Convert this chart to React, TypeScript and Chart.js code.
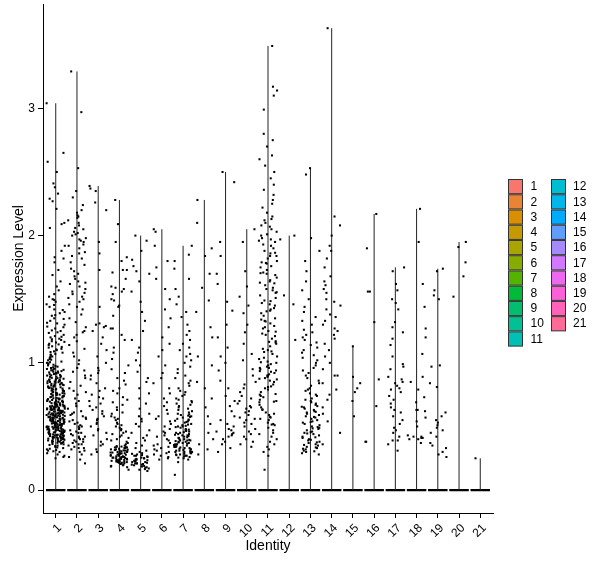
import React, { useEffect, useRef } from "react";
import { Chart, registerables } from "chart.js";

Chart.register(...registerables);

// ---------- data ----------
const IDENTITIES = ["1","2","3","4","5","6","7","8","9","10","11","12","13","14","15","16","17","18","19","20","21"];
const Y_TICKS = [0, 1, 2, 3];
const X_TITLE = "Identity";
const Y_TITLE = "Expression Level";

// non-zero expression values per identity (every identity also has many zero cells)
const C1 = [3.04, 2.65, 2.58, 2.50, 2.41, 2.38, 2.33, 2.29, 2.27, 2.21, 2.10, 2.09, 2.06,
  1.92, 1.88, 1.83, 1.82, 1.79, 1.73, 1.69, 1.64, 1.60, 1.57, 1.54, 1.52, 1.50,
  1.48, 1.46, 1.44, 1.42, 1.40, 1.39, 1.37, 1.35, 1.33, 1.31, 1.30, 1.28, 1.27, 1.25, 1.24, 1.22, 1.21, 1.20,
  1.19, 1.18, 1.17, 1.16, 1.15, 1.14, 1.13, 1.12, 1.11, 1.10, 1.09, 1.08, 1.07, 1.06, 1.05, 1.04, 1.03, 1.02, 1.01, 1.00,
  0.99, 0.98, 0.97, 0.96, 0.95, 0.94, 0.93, 0.92, 0.91, 0.90, 0.89, 0.88, 0.87, 0.86, 0.85, 0.84, 0.83, 0.82, 0.81, 0.80,
  0.995, 0.985, 0.975, 0.965, 0.955, 0.945, 0.935, 0.925, 0.915, 0.905, 0.895, 0.885, 0.875, 0.865, 0.855, 0.845, 0.835, 0.825, 0.815, 0.805,
  0.79, 0.78, 0.77, 0.76, 0.75, 0.74, 0.73, 0.72, 0.71, 0.70, 0.69, 0.68, 0.67, 0.66, 0.65, 0.64, 0.63, 0.62, 0.61, 0.60,
  0.59, 0.58, 0.57, 0.56, 0.55, 0.54, 0.53, 0.52, 0.51, 0.50, 0.49, 0.48, 0.47, 0.46, 0.45, 0.44, 0.43, 0.42, 0.41, 0.40,
  0.39, 0.38, 0.37, 0.36, 0.35, 0.34, 0.33, 0.32, 0.31, 0.30,
  0.795, 0.785, 0.775, 0.765, 0.755, 0.745, 0.735, 0.725, 0.715, 0.705, 0.695, 0.685, 0.675, 0.665, 0.655, 0.645, 0.635, 0.625, 0.615, 0.605,
  0.595, 0.585, 0.575, 0.565, 0.555, 0.545, 0.535, 0.525, 0.515, 0.505, 0.495, 0.485, 0.475, 0.465, 0.455, 0.445, 0.435, 0.425, 0.415, 0.405,
  0.395, 0.385, 0.375, 0.365, 0.355, 0.345, 0.335, 0.325, 0.315, 0.305,
  0.703, 0.693, 0.683, 0.673, 0.663, 0.653, 0.643, 0.633, 0.623, 0.613, 0.603, 0.593, 0.583, 0.573, 0.563, 0.553,
  0.543, 0.533, 0.523, 0.513, 0.503, 0.493, 0.483, 0.473, 0.463, 0.453, 0.443, 0.433, 0.423, 0.413, 0.403,
  0.657, 0.647, 0.637, 0.627, 0.617, 0.607, 0.597, 0.587, 0.577, 0.567, 0.557, 0.547, 0.537, 0.527, 0.517,
  0.507, 0.497, 0.487, 0.477, 0.467, 0.457, 0.447, 0.437, 0.427, 0.417, 0.407,
  0.29, 0.28, 0.27, 0.26, 0.25,
  0.952, 0.942, 0.932, 0.922, 0.912, 0.902, 0.892, 0.882, 0.872, 0.862, 0.852, 0.842, 0.832, 0.822, 0.812,
  0.802, 0.792, 0.782, 0.772, 0.762, 0.752, 0.742, 0.732, 0.722, 0.712, 0.702, 0.692, 0.682, 0.672, 0.662,
  0.652, 0.642, 0.632, 0.622, 0.612, 0.602, 0.592, 0.582, 0.572, 0.562, 0.552, 0.542, 0.532, 0.522, 0.512,
  0.502, 0.492, 0.482, 0.472, 0.462, 0.452, 0.442, 0.432, 0.422, 0.412, 0.402, 0.392, 0.382, 0.372, 0.362,
  0.868, 0.858, 0.848, 0.838, 0.828, 0.818, 0.808, 0.798, 0.788, 0.778, 0.768, 0.758, 0.748, 0.738, 0.728,
  0.718, 0.708, 0.698, 0.688, 0.678, 0.668, 0.658, 0.648, 0.638, 0.628, 0.618, 0.608, 0.598, 0.588, 0.578,
  0.568, 0.558, 0.548, 0.538, 0.528, 0.518, 0.508, 0.498, 0.488, 0.478, 0.468, 0.458, 0.448, 0.438, 0.428,
  0.418, 0.408, 0.398, 0.388, 0.378,
  1.495, 1.455, 1.415, 1.375, 1.345, 1.315, 1.285, 1.255, 1.235, 1.205, 1.185, 1.165, 1.145, 1.125, 1.105,
  1.085, 1.065, 1.045, 1.025, 1.005];
const C2 = [3.29, 2.97, 2.53, 2.35, 2.30, 2.24, 2.20, 2.18, 2.16, 2.14, 2.12, 2.10, 2.08, 2.06, 2.05, 2.03, 2.01, 2.00, 1.98, 1.96, 1.95, 1.93, 1.92, 1.90,
  1.87, 1.84, 1.82, 1.79, 1.77, 1.74, 1.72, 1.70, 1.68, 1.66, 1.64, 1.62, 1.60, 1.58, 1.56, 1.54, 1.52, 1.50, 1.48, 1.46, 1.44, 1.42,
  1.38, 1.35, 1.32, 1.28, 1.25, 1.22, 1.20, 1.17, 1.14, 1.11, 1.08, 1.05, 1.02,
  0.99, 0.96, 0.93, 0.90, 0.88, 0.85, 0.82, 0.80, 0.77, 0.75, 0.72, 0.70, 0.68, 0.66, 0.64, 0.62, 0.61,
  0.60, 0.58, 0.57, 0.55, 0.54, 0.53, 0.52, 0.51, 0.50, 0.49, 0.48, 0.47, 0.46, 0.45, 0.44, 0.43, 0.42, 0.41, 0.40, 0.40,
  0.39, 0.38, 0.38, 0.37, 0.36, 0.35, 0.34, 0.33, 0.32, 0.31, 0.30, 0.28, 0.26, 0.24, 0.21,
  2.15, 2.02, 1.97, 1.86, 1.63, 1.55, 1.51, 1.24, 0.94, 0.78, 0.59, 0.56, 0.50, 0.45, 0.42, 0.36, 0.33];
const C3 = [2.39, 2.37, 2.35, 2.26, 2.20, 1.95, 1.86, 1.73, 1.44, 1.31, 1.30, 1.29, 1.28, 1.25, 1.20, 1.15, 1.10, 1.05, 1.00,
  0.96, 0.94, 0.92, 0.90, 0.87, 0.84, 0.80, 0.78, 0.75, 0.73, 0.72, 0.70, 0.68, 0.66, 0.65, 0.63, 0.62, 0.60, 0.58, 0.56,
  0.55, 0.53, 0.52, 0.50, 0.48, 0.47, 0.45, 0.43, 0.40, 0.38, 0.36, 0.35, 0.32, 0.30, 0.28];
const C4 = [2.28, 2.09, 1.95, 1.83, 1.80, 1.73, 1.73, 1.71, 1.66, 1.60, 1.59, 1.58, 1.56, 1.54, 1.50, 1.49, 1.45, 1.44, 1.37,
  1.27, 1.27, 1.22, 1.18, 1.12, 1.08, 1.03, 0.98, 0.95, 0.92, 0.88, 0.86, 0.83, 0.80, 0.78, 0.76, 0.73, 0.71, 0.69, 0.67,
  0.65, 0.63, 0.61, 0.60, 0.58, 0.57, 0.56, 0.55, 0.53, 0.52, 0.51, 0.50, 0.49, 0.48, 0.47, 0.46, 0.45, 0.44, 0.43, 0.42,
  0.41, 0.40, 0.39, 0.38, 0.37, 0.36, 0.35, 0.34, 0.34, 0.33, 0.33, 0.32, 0.32, 0.31, 0.31, 0.30, 0.30, 0.29, 0.29, 0.28,
  0.28, 0.27, 0.27, 0.26, 0.26, 0.25, 0.25, 0.24, 0.24, 0.23, 0.23, 0.22, 0.22, 0.21, 0.20, 0.19, 0.18, 0.16,
  0.305, 0.295, 0.285, 0.275, 0.265, 0.255, 0.245, 0.235, 0.225, 0.215, 0.205,
  0.345, 0.335, 0.325, 0.315, 0.305, 0.295, 0.285, 0.275, 0.265, 0.255, 0.245, 0.235, 0.225, 0.215, 0.195, 0.185,
  0.335, 0.312, 0.288, 0.262, 0.238, 0.212, 0.342, 0.318, 0.278, 0.252, 0.228];
const C5 = [2.00, 1.96, 1.88, 1.81, 1.76, 1.72, 1.70, 1.64, 1.56, 1.48, 1.40, 1.33, 1.25, 1.18, 1.12, 1.08, 1.02, 0.98,
  0.93, 0.88, 0.85, 0.80, 0.76, 0.72, 0.68, 0.64, 0.60, 0.58, 0.56, 0.54, 0.52, 0.50, 0.47, 0.45, 0.43, 0.41, 0.39,
  0.37, 0.35, 0.33, 0.31, 0.30, 0.29, 0.28, 0.27, 0.26, 0.25, 0.25, 0.24, 0.23, 0.23, 0.22, 0.22, 0.21, 0.21, 0.20,
  0.20, 0.19, 0.18, 0.17, 0.16, 0.15,
  0.285, 0.275, 0.265, 0.255, 0.245, 0.235, 0.225, 0.215, 0.205, 0.195, 0.185, 0.175, 0.165, 0.27, 0.24, 0.21];
const C6 = [2.05, 2.03, 1.92, 1.80, 1.75, 1.66, 1.58, 1.50, 1.42, 1.35, 1.28, 1.20, 1.15, 1.10, 1.05, 0.98, 0.92, 0.88,
  0.84, 0.80, 0.76, 0.72, 0.69, 0.66, 0.63, 0.60, 0.58, 0.56, 0.54, 0.52, 0.50, 0.48, 0.46, 0.45, 0.43, 0.42, 0.40,
  0.39, 0.37, 0.36, 0.35, 0.34, 0.33, 0.32, 0.31, 0.30, 0.29, 0.28, 0.27, 0.26, 0.25, 0.24];
const C7 = [1.92, 1.85, 1.80, 1.74, 1.66, 1.58, 1.52, 1.46, 1.40, 1.36, 1.30, 1.25, 1.22, 1.18, 1.15, 1.12, 1.10, 1.07,
  1.05, 1.02, 1.00, 0.97, 0.95, 0.92, 0.90, 0.88, 0.86, 0.84, 0.82, 0.80, 0.78, 0.77, 0.75, 0.74, 0.72, 0.71, 0.70,
  0.69, 0.68, 0.67, 0.66, 0.65, 0.64, 0.63, 0.62, 0.61, 0.60, 0.59, 0.58, 0.57, 0.56, 0.55, 0.54, 0.53, 0.52, 0.51,
  0.50, 0.50, 0.49, 0.48, 0.47, 0.47, 0.46, 0.45, 0.45, 0.44, 0.43, 0.43, 0.42, 0.41, 0.41, 0.40, 0.40, 0.39, 0.39,
  0.38, 0.38, 0.37, 0.37, 0.36, 0.36, 0.35, 0.35, 0.34, 0.34, 0.33, 0.33, 0.32, 0.32, 0.31, 0.31, 0.30, 0.30, 0.29,
  0.29, 0.28, 0.28, 0.27, 0.26, 0.25, 0.24, 0.22, 0.12,
  0.595, 0.575, 0.555, 0.535, 0.515, 0.495, 0.475, 0.455, 0.435, 0.415, 0.395, 0.375, 0.355, 0.345, 0.335, 0.325,
  0.315, 0.305, 0.295, 0.285, 0.275, 0.265, 0.255, 0.585, 0.545, 0.505, 0.465, 0.425, 0.385, 0.365, 0.44, 0.39,
  0.34, 0.30, 0.27];
const C8 = [2.28, 2.10, 1.90, 1.84, 1.70, 1.59, 1.49, 1.40, 1.28, 1.20, 1.05, 0.98, 0.85, 0.80, 0.72, 0.65, 0.58, 0.52,
  0.45, 0.40, 0.36, 0.32, 0.28];
const C9 = [2.50, 2.42, 1.95, 1.84, 1.70, 1.62, 1.48, 1.41, 1.30, 1.20, 1.12, 1.05, 1.00, 0.94, 0.86, 0.80, 0.74, 0.70,
  0.66, 0.62, 0.58, 0.55, 0.52, 0.50, 0.48, 0.47, 0.46, 0.45, 0.44, 0.43, 0.42, 0.40, 0.38, 0.36, 0.33, 0.30];
const C10 = [2.05, 1.95, 1.72, 1.60, 1.52, 1.45, 1.39, 1.30, 1.24, 1.15, 1.07, 1.02, 0.95, 0.90, 0.85, 0.83, 0.80, 0.77,
  0.74, 0.72, 0.70, 0.68, 0.66, 0.65, 0.64, 0.62, 0.61, 0.59, 0.57, 0.56, 0.55, 0.53, 0.52, 0.50, 0.48, 0.46, 0.44,
  0.42, 0.40, 0.38, 0.36, 0.34];
const C11 = [3.49, 3.17, 3.14, 3.10, 2.99, 2.80, 2.75, 2.70, 2.63, 2.60, 2.55, 2.50, 2.45, 2.40, 2.36, 2.32, 2.28, 2.25,
  2.22, 2.18, 2.15, 2.13, 2.12, 2.10, 2.07, 2.05, 2.03, 2.01, 2.00, 1.98, 1.97, 1.95, 1.92, 1.90, 1.88, 1.86, 1.84,
  1.82, 1.80, 1.78, 1.76, 1.75, 1.73, 1.71, 1.69, 1.67, 1.65, 1.63, 1.61, 1.59, 1.57, 1.55, 1.53, 1.51, 1.49, 1.47,
  1.45, 1.43, 1.41, 1.39, 1.37, 1.35, 1.33, 1.31, 1.29, 1.27, 1.25, 1.23, 1.21, 1.19, 1.17, 1.15, 1.13, 1.11, 1.09,
  1.07, 1.05, 1.03, 1.01, 0.99, 0.98, 0.97, 0.96, 0.95, 0.94, 0.93, 0.92, 0.91, 0.90, 0.89, 0.88, 0.86, 0.85, 0.83,
  0.81, 0.79, 0.77, 0.75, 0.73, 0.71, 0.69, 0.67, 0.65, 0.63, 0.61, 0.59, 0.57, 0.55, 0.53, 0.51, 0.49, 0.47, 0.45,
  0.42, 0.40, 0.38, 0.36, 0.34, 0.32, 0.30, 0.27, 0.16,
  1.96, 1.84, 1.70, 1.58, 1.46, 1.34, 1.22, 1.10, 1.00, 0.90, 0.80, 0.70, 0.60, 0.52, 0.44,
  2.08, 1.93, 1.79, 1.64, 1.42, 1.28, 1.16, 1.04, 0.96, 0.87, 0.74, 0.56,
  1.485, 1.405, 1.325, 1.245, 1.165, 1.085, 1.005, 0.935, 0.875, 0.815, 0.755, 0.695, 0.635, 0.575, 0.515,
  1.555, 1.625, 1.705, 1.785, 1.865];
const C12 = [2.00, 1.97, 1.53, 1.46, 1.18];
const C13 = [2.53, 2.48, 1.98, 1.88, 1.80, 1.72, 1.64, 1.57, 1.50, 1.44, 1.40, 1.36, 1.33, 1.30, 1.26, 1.24, 1.22, 1.20,
  1.18, 1.16, 1.14, 1.12, 1.10, 1.08, 1.06, 1.04, 1.02, 1.00, 0.98, 0.96, 0.94, 0.92, 0.90, 0.88, 0.86, 0.84, 0.82,
  0.80, 0.79, 0.78, 0.76, 0.75, 0.74, 0.72, 0.71, 0.70, 0.69, 0.68, 0.67, 0.66, 0.65, 0.64, 0.63, 0.62, 0.61, 0.60,
  0.59, 0.58, 0.57, 0.56, 0.55, 0.54, 0.53, 0.52, 0.51, 0.50, 0.49, 0.48, 0.47, 0.46, 0.45, 0.44, 0.43, 0.42, 0.41,
  0.40, 0.39, 0.38, 0.37, 0.36, 0.35, 0.34, 0.33, 0.32, 0.31, 0.30, 0.29, 0.28,
  0.655, 0.615, 0.575, 0.535, 0.495, 0.455, 0.415, 0.375, 0.335, 0.305, 0.485, 0.445, 0.395, 0.355, 0.325];
const C14 = [3.63, 2.15, 2.08, 2.00, 1.92, 1.88, 1.82, 1.75, 1.68, 1.64, 1.61, 1.58, 1.55, 1.50, 1.48, 1.45, 1.42, 1.38,
  1.36, 1.33, 1.30, 1.27, 1.25, 1.22, 1.19, 1.15, 1.10, 1.05, 1.00, 0.95, 0.90, 0.90, 0.84, 0.79, 0.75, 0.71, 0.65,
  0.60, 0.54, 0.45, 0.36];
const C15 = [1.13, 0.89, 0.84, 0.80, 0.77, 0.70, 0.58];
const C16 = [2.17, 1.90, 1.56, 1.56, 1.32, 0.87, 0.66, 0.38, 0.38];
const C17 = [1.75, 1.72, 1.62, 1.57, 1.50, 1.47, 1.42, 1.32, 1.28, 1.24, 1.19, 1.14, 1.05, 0.99, 0.97, 0.95, 0.89, 0.87,
  0.85, 0.84, 0.82, 0.80, 0.79, 0.77, 0.74, 0.71, 0.68, 0.65, 0.63, 0.61, 0.58, 0.55, 0.52, 0.49, 0.47, 0.45, 0.42,
  0.39, 0.39, 0.36, 0.31];
const C18 = [2.21, 1.95, 1.62, 1.44, 1.27, 1.20, 1.07, 0.89, 0.85, 0.79, 0.73, 0.69, 0.63, 0.63, 0.62, 0.57, 0.54, 0.50,
  0.43, 0.42, 0.42, 0.41, 0.41, 0.40, 0.40, 0.37];
const C19 = [1.74, 1.72, 1.57, 1.53, 1.50, 0.98, 0.97, 0.84, 0.81, 0.61, 0.58, 0.55, 0.53, 0.51, 0.49, 0.47, 0.45, 0.42,
  0.37, 0.35, 0.33, 0.30, 0.28, 0.26];
const C20 = [1.95, 1.91, 1.79, 1.68, 1.52];
const C21 = [0.25];

const CLUSTERS = [C1, C2, C3, C4, C5, C6, C7, C8, C9, C10, C11, C12, C13, C14, C15, C16, C17, C18, C19, C20, C21];

// ---------- styling helpers ----------
const FONT = '"Liberation Sans", Arial, Helvetica, sans-serif';

// ggplot2 default hue palette: hcl(h, c = 100, l = 65)
function hcl(h: number, c: number, l: number): string {
  const hr = (h * Math.PI) / 180;
  const U = c * Math.cos(hr);
  const V = c * Math.sin(hr);
  const Xn = 95.047, Yn = 100, Zn = 108.883;
  const Y = l > 8 ? Yn * Math.pow((l + 16) / 116, 3) : (Yn * l) / 903.3;
  const den = Xn + 15 * Yn + 3 * Zn;
  const un = (4 * Xn) / den, vn = (9 * Yn) / den;
  const u = U / (13 * l) + un;
  const v = V / (13 * l) + vn;
  const X = (9 * Y * u) / (4 * v);
  const Z = (Y * (12 - 3 * u - 20 * v)) / (4 * v);
  const x = X / 100, y = Y / 100, z = Z / 100;
  const lin = [
    3.240479 * x - 1.53715 * y - 0.498535 * z,
    -0.969256 * x + 1.875992 * y + 0.041556 * z,
    0.055648 * x - 0.204043 * y + 1.057311 * z,
  ];
  const out = lin.map((t) => {
    const g = t <= 0.0031308 ? 12.92 * t : 1.055 * Math.pow(t, 1 / 2.4) - 0.055;
    return Math.round(Math.min(1, Math.max(0, g)) * 255);
  });
  return `rgb(${out[0]},${out[1]},${out[2]})`;
}
const COLORS = IDENTITIES.map((_, i) => hcl(15 + (i * 360) / IDENTITIES.length, 100, 65));

// horizontal jitter (like geom_jitter, height = 0): deterministic hash in [-0.5, 0.5)
function jitter(k: number, c: number): number {
  const s = Math.sin(k * 12.9898 + c * 78.233) * 43758.5453;
  return s - Math.floor(s) - 0.5;
}

const legendPlugin = {
  id: "identityLegend",
  afterDraw(chart: any) {
    const ctx = chart.ctx as CanvasRenderingContext2D;
    ctx.save();
    ctx.font = `12px ${FONT}`;
    ctx.textBaseline = "middle";
    ctx.textAlign = "left";
    const perCol = Math.ceil(IDENTITIES.length / 2);
    IDENTITIES.forEach((lab, i) => {
      const col = i < perCol ? 0 : 1;
      const row = i < perCol ? i : i - perCol;
      const bx = col === 0 ? 508.5 : 551.5;
      const by = 179.5 + row * 15.24;
      ctx.fillStyle = COLORS[i];
      ctx.fillRect(bx, by, 14, 14.2);
      ctx.strokeStyle = "#333333";
      ctx.lineWidth = 1;
      ctx.strokeRect(bx, by, 14, 14.2);
      ctx.fillStyle = "#000000";
      ctx.fillText(lab, col === 0 ? 530.5 : 573, by + 7.5);
    });
    ctx.restore();
  },
};

export default function App() {
  const ref = useRef<HTMLCanvasElement | null>(null);

  useEffect(() => {
    if (!ref.current) return;

    const points: { x: number; y: number }[] = [];
    const baseLines: { x: number; y: number | null }[] = [];
    const stems: { x: number; y: number | null }[] = [];
    CLUSTERS.forEach((vals, ci) => {
      const cx = ci + 1;
      vals.forEach((v, k) => {
        points.push({ x: cx + jitter(k, ci) * 0.86, y: v });
      });
      const maxV = Math.max(...vals);
      baseLines.push({ x: cx - 0.46, y: 0 }, { x: cx + 0.46, y: 0 }, { x: cx, y: null });
      stems.push({ x: cx, y: 0 }, { x: cx, y: maxV }, { x: cx + 0.001, y: null });
    });

    const chart = new Chart(ref.current, {
      type: "scatter",
      data: {
        datasets: [
          {
            label: "points",
            data: points,
            pointStyle: "rect",
            pointRadius: 1.45,
            pointBackgroundColor: "#000000",
            pointBorderWidth: 0,
            showLine: false,
            order: 0,
          } as any,
          {
            label: "violin-stem",
            data: stems,
            showLine: true,
            spanGaps: false,
            borderColor: "#222222",
            borderWidth: 1,
            pointRadius: 0,
            order: 1,
          } as any,
          {
            label: "violin-base",
            data: baseLines,
            showLine: true,
            spanGaps: false,
            borderColor: "#000000",
            borderWidth: 2.2,
            pointRadius: 0,
            order: 2,
          } as any,
        ],
      },
      options: {
        animation: false,
        responsive: true,
        maintainAspectRatio: false,
        layout: { padding: { top: 3, right: 107, left: 0, bottom: 0 } },
        plugins: {
          legend: { display: false },
          tooltip: { enabled: false },
        },
        scales: {
          x: {
            type: "linear",
            min: 0.4,
            max: IDENTITIES.length + 0.6,
            afterBuildTicks: (scale: any) => {
              scale.ticks = IDENTITIES.map((_, i) => ({ value: i + 1 }));
            },
            afterFit: (scale: any) => {
              scale.height = 55;
              scale.paddingLeft = 0;
              scale.paddingRight = 0;
            },
            ticks: {
              autoSkip: false,
              minRotation: 45,
              maxRotation: 45,
              padding: 3,
              labelOffset: 4,
              color: "#000000",
              font: { family: FONT, size: 12 },
              callback: (v: any) => IDENTITIES[Math.round(Number(v)) - 1] ?? "",
            },
            grid: {
              display: true,
              drawOnChartArea: false,
              drawTicks: true,
              tickLength: 5,
              color: "#000000",
            },
            border: { display: true, color: "#000000", width: 1 },
            title: {
              display: true,
              text: X_TITLE,
              color: "#000000",
              font: { family: FONT, size: 14 },
              padding: { top: 0, bottom: 13 },
            },
          },
          y: {
            type: "linear",
            min: -0.18,
            max: 3.82,
            afterBuildTicks: (scale: any) => {
              scale.ticks = Y_TICKS.map((v) => ({ value: v }));
            },
            afterFit: (scale: any) => {
              scale.width = 43;
              scale.paddingTop = 0;
              scale.paddingBottom = 0;
            },
            ticks: {
              padding: 3,
              color: "#000000",
              font: { family: FONT, size: 12 },
              callback: (v: any) => String(v),
            },
            grid: {
              display: true,
              drawOnChartArea: false,
              drawTicks: true,
              tickLength: 5,
              color: "#000000",
            },
            border: { display: true, color: "#000000", width: 1 },
            title: {
              display: true,
              text: Y_TITLE,
              color: "#000000",
              font: { family: FONT, size: 14 },
              padding: { top: 11, bottom: 0 },
            },
          },
        },
      } as any,
      plugins: [legendPlugin],
    });

    return () => chart.destroy();
  }, []);

  return (
    <div style={{ position: "absolute", left: 0, top: 0, width: 600, height: 568, background: "#ffffff" }}>
      <canvas ref={ref} />
    </div>
  );
}
